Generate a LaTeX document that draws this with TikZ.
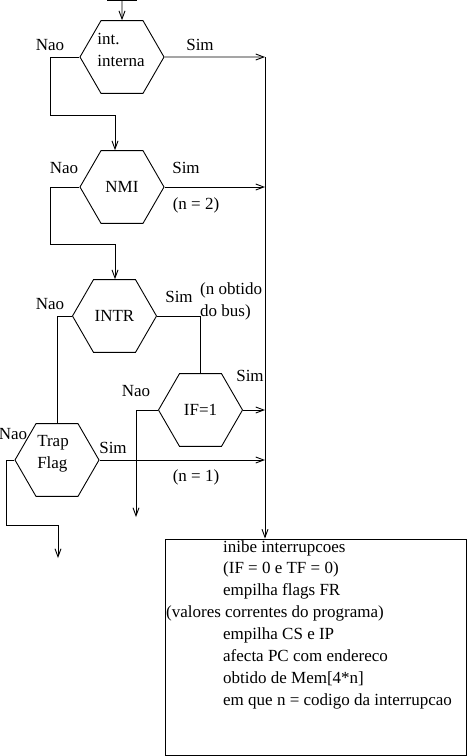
\documentclass[tikz,border=0pt]{standalone}
\usepackage{fontspec}
\setmainfont{Liberation Serif}
\usetikzlibrary{shapes.geometric,arrows.meta}

\begin{document}
\begin{tikzpicture}[x=1pt,y=-1pt,
  every node/.style={font=\fontsize{17}{21.9}\selectfont,inner sep=0pt,text=clt},
  hexa/.style={draw=cl,line width=0.9pt,regular polygon,regular polygon sides=6,minimum size=84pt,align=left},
  wire/.style={draw=cl,line width=0.9pt},
  arr/.style={wire,-{Straight Barb[length=8pt,width=6pt]}}]
\definecolor{cl}{rgb}{0.0,0.0,0.0}
\definecolor{clt}{rgb}{0.0,0.0,0.0}
\definecolor{cfb}{rgb}{1.0,1.0,1.0}
\useasboundingbox[fill=cfb] (0,0) rectangle (467,756);
%
\node[hexa] (h1) at (122,57) {\raisebox{6pt}[\height][\depth]{\begin{tabular}{@{}l@{}}int.\\interna\end{tabular}}\hspace*{2pt}};
\node[hexa] (h2) at (122,187) {NMI};
\node[hexa] (h3) at (114.5,316) {INTR};
\node[hexa] (h4) at (200.5,410) {IF=1};
\node[hexa] (h5) at (57,460) {\raisebox{7pt}[\height][\depth]{\begin{tabular}{@{}l@{}}Trap\\Flag\end{tabular}}\hspace*{8pt}};
%
\node[wire,minimum width=301pt,minimum height=216pt,anchor=north west] (box) at (165,538.5) {};
\node[anchor=north west,align=left] (acts) at (223,540) {inibe interrupcoes\\(IF = 0 e TF = 0)\\empilha flags FR\\\hspace*{-57pt}(valores correntes do programa)\\empilha CS e IP\\afecta PC com endereco\\obtido de Mem[4*n]\\em que n = codigo da interrupcao};
%
\node (nao1) at (50,45) {Nao};
\node (sim1) at (200,45) {Sim};
\node (nao2) at (64,168) {Nao};
\node (sim2) at (186,168) {Sim};
\node (code2) at (196,205) {(n = 2)};
\node (nao3) at (50,304) {Nao};
\node (sim3) at (179,297) {Sim};
\node[anchor=west,align=left] (code3) at (200,301) {(n obtido\\do bus)};
\node (nao4) at (136,391) {Nao};
\node (sim4) at (250,376) {Sim};
\node (nao5) at (13,434) {Nao};
\node (sim5) at (113,448) {Sim};
\node (code1) at (196,477) {(n = 1)};
%
\coordinate (top) at (122,0.5);
\coordinate (bus) at (265,57);
\coordinate (k1) at (115,115);
\coordinate (k2) at (115,244);
\coordinate (k3) at (136,517);
\coordinate (k4) at (58,525);
%
\draw[wire] ([xshift=-15pt]top) -- ([xshift=15pt]top);
\draw[arr] (top) -- (h1.north);
\draw[arr] (bus) -- (bus |- box.north);
\draw[arr] (h1.east) -- (bus);
\draw[arr] (h2.east) -- (h2.east -| bus);
\draw[arr] (h4.east) -- (h4.east -| bus);
\draw[arr] (h5.east) -- (h5.east -| bus);
\draw[arr] (h1.west) -| (50,115) -- (k1) -- (k1 |- h2.north);
\draw[arr] (h2.west) -| (50,244) -- (k2) -- (k2 |- h3.north);
\draw[wire] (h3.east) -| (h4.north);
\draw[wire] (h3.west) -| (h5.north);
\draw[arr] (h4.west) -| (k3);
\draw[arr] (h5.west) -| (6,525) -- (k4) -- ++(0,33);
%
\end{tikzpicture}
\end{document}
